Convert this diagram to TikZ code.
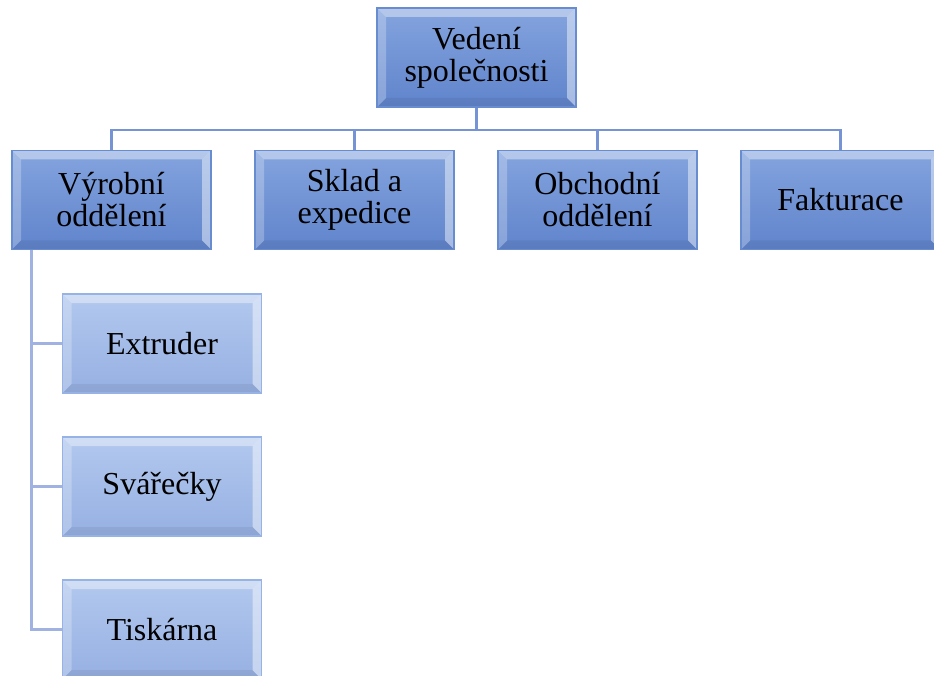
\documentclass[tikz,border=0pt]{standalone}
\usepackage{fontspec}
\setmainfont{Liberation Serif}
\usetikzlibrary{calc}

\definecolor{modra}{RGB}{104,140,208}
\definecolor{modrahore}{RGB}{132,164,222}
\definecolor{modradole}{RGB}{96,132,204}
\definecolor{svetla}{RGB}{156,182,230}
\definecolor{svetlahore}{RGB}{178,200,238}
\definecolor{svetladole}{RGB}{150,176,226}
\definecolor{cara}{RGB}{118,148,212}
\definecolor{caraB}{RGB}{160,178,226}

\tikzset{
  hrana/.style={path picture={
    \fill[white, opacity=0.40] (path picture bounding box.north west) -- (path picture bounding box.north east)
      -- ([shift={(-9pt,-9pt)}]path picture bounding box.north east) -- ([shift={(9pt,-9pt)}]path picture bounding box.north west) -- cycle;
    \fill[white, opacity=0.25] (path picture bounding box.north west) -- ([shift={(9pt,-9pt)}]path picture bounding box.north west)
      -- ([shift={(9pt,9pt)}]path picture bounding box.south west) -- (path picture bounding box.south west) -- cycle;
    \fill[white, opacity=0.45] (path picture bounding box.north east) -- ([shift={(-9pt,-9pt)}]path picture bounding box.north east)
      -- ([shift={(-9pt,9pt)}]path picture bounding box.south east) -- (path picture bounding box.south east) -- cycle;
    \fill[black, opacity=0.06] (path picture bounding box.south west) -- ([shift={(9pt,9pt)}]path picture bounding box.south west)
      -- ([shift={(-9pt,9pt)}]path picture bounding box.south east) -- (path picture bounding box.south east) -- cycle;
  }},
  blok/.style={draw=modra, line width=1.2pt, minimum width=199pt, minimum height=99pt,
    inner sep=0pt, align=center, font=\fontsize{32}{32}\selectfont, hrana},
  hlavni/.style={blok, top color=modrahore, bottom color=modradole},
  podblok/.style={blok, draw=svetla!90!modra, top color=svetlahore, bottom color=svetladole},
  spoj/.style={draw=cara, line width=2.2pt},
  spojB/.style={draw=caraB, line width=2.2pt}
}

\begin{document}
\begin{tikzpicture}[x=1pt, y=-1pt]

    % Plocha
    \useasboundingbox[fill=white] (0,0) rectangle (934,676);

    % Bod rozdeleni pod vedenim
    \coordinate (rozdel) at (476.5,130);

    % Vedeni
    \node[hlavni] (vedeni) at (476.5,57.5) {Vedení\\společnosti};

    % Oddeleni
    \node[hlavni] (vyroba)  at (111.5,200) {Výrobní\\oddělení};
    \node[hlavni] (sklad)   at (354.5,200) {Sklad a\\expedice};
    \node[hlavni] (obchod)  at (597.5,200) {Obchodní\\oddělení};
    \node[hlavni] (faktura) at (840.5,200) {Fakturace};

    % Vyrobni useky
    \node[podblok] (extruder) at (162,343.5) {Extruder};
    \node[podblok] (svarecky) at (162,486.5) {Svářečky};
    \node[podblok] (tiskarna) at (162,629.5) {Tiskárna};

    % Spoje
    \foreach \n in {vyroba,sklad,obchod,faktura}
        \draw[spoj] (vedeni.south) -- (vedeni.south |- rozdel) -| (\n.north);
    \coordinate (kmen) at ([xshift=20pt]vyroba.south west);
    \foreach \n in {extruder,svarecky,tiskarna}
        \draw[spojB] (kmen) |- (\n.west);

\end{tikzpicture}
\end{document}
